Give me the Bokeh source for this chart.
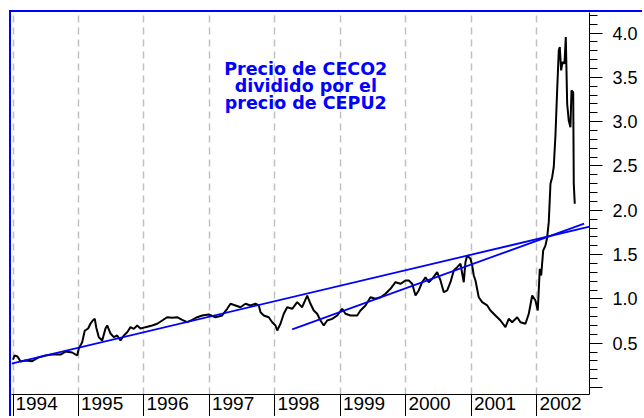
from bokeh.plotting import figure
from bokeh.models import FixedTicker, Range1d, Label
from bokeh.embed import file_html
from bokeh.resources import INLINE

years = [1994, 1995, 1996, 1997, 1998, 1999, 2000, 2001, 2002]
year_labels = ["1994", "1995", "1996", "1997", "1998", "1999", "2000", "2001", "2002"]
y_ticks = [0.0, 0.5, 1.0, 1.5, 2.0, 2.5, 3.0, 3.5, 4.0]
y_tick_labels = ["", "0.5", "1.0", "1.5", "2.0", "2.5", "3.0", "3.5", "4.0"]

fecha = [
    1994.000, 1994.023, 1994.069, 1994.115, 1994.191, 1994.293, 1994.389, 1994.496, 1994.598, 1994.725,
    1994.802, 1994.904, 1994.980, 1995.005, 1995.056, 1995.096, 1995.148, 1995.183, 1995.218, 1995.249,
    1995.270, 1995.310, 1995.362, 1995.412, 1995.438, 1995.489, 1995.539, 1995.591, 1995.641, 1995.692,
    1995.744, 1995.794, 1995.844, 1995.896, 1995.947, 1996.023, 1996.125, 1996.202, 1996.278, 1996.354,
    1996.431, 1996.507, 1996.583, 1996.660, 1996.736, 1996.812, 1996.889, 1996.989, 1997.092, 1997.194,
    1997.270, 1997.321, 1997.397, 1997.473, 1997.550, 1997.626, 1997.702, 1997.753, 1997.779, 1997.829,
    1997.905, 1997.957, 1998.008, 1998.034, 1998.084, 1998.134, 1998.186, 1998.263, 1998.339, 1998.415,
    1998.492, 1998.542, 1998.592, 1998.644, 1998.695, 1998.745, 1998.797, 1998.873, 1998.950, 1999.026,
    1999.076, 1999.153, 1999.255, 1999.305, 1999.382, 1999.458, 1999.534, 1999.611, 1999.687, 1999.763,
    1999.840, 1999.916, 1999.992, 2000.043, 2000.095, 2000.145, 2000.195, 2000.247, 2000.298, 2000.348,
    2000.400, 2000.476, 2000.527, 2000.577, 2000.629, 2000.679, 2000.730, 2000.782, 2000.832, 2000.882,
    2000.908, 2000.934, 2000.985, 2001.011, 2001.035, 2001.061, 2001.111, 2001.163, 2001.240, 2001.290,
    2001.366, 2001.443, 2001.519, 2001.569, 2001.621, 2001.698, 2001.748, 2001.824, 2001.875, 2001.927,
    2001.977, 2002.012, 2002.043, 2002.064, 2002.095, 2002.130, 2002.156,
    2002.180, 2002.206, 2002.232, 2002.256, 2002.282, 2002.308, 2002.333, 2002.348, 2002.369, 2002.389,
    2002.420, 2002.440, 2002.461, 2002.485, 2002.511, 2002.527, 2002.553, 2002.562, 2002.577,
]

ratio = [
    0.313, 0.361, 0.350, 0.293, 0.305, 0.297, 0.339, 0.361, 0.372, 0.372,
    0.406, 0.395, 0.361, 0.440, 0.511, 0.643, 0.666, 0.722, 0.756, 0.775,
    0.681, 0.568, 0.530, 0.666, 0.700, 0.609, 0.568, 0.587, 0.530, 0.587,
    0.624, 0.681, 0.662, 0.700, 0.666, 0.681, 0.700, 0.719, 0.756, 0.793,
    0.787, 0.793, 0.764, 0.737, 0.764, 0.793, 0.813, 0.824, 0.793, 0.813,
    0.888, 0.945, 0.926, 0.906, 0.945, 0.926, 0.945, 0.926, 0.850, 0.813,
    0.793, 0.737, 0.700, 0.643, 0.719, 0.832, 0.906, 0.888, 0.963, 0.906,
    1.038, 0.945, 0.869, 0.832, 0.756, 0.700, 0.756, 0.775, 0.813, 0.888,
    0.832, 0.813, 0.813, 0.869, 0.926, 1.019, 1.001, 1.019, 1.058, 1.114,
    1.188, 1.170, 1.208, 1.208, 1.170, 1.038, 1.095, 1.188, 1.245, 1.188,
    1.227, 1.301, 1.208, 1.076, 1.095, 1.188, 1.321, 1.358, 1.396, 1.188,
    1.414, 1.490, 1.453, 1.377, 1.264, 1.208, 1.019, 0.963, 0.926, 0.869,
    0.813, 0.756, 0.681, 0.775, 0.737, 0.793, 0.737, 0.719, 0.832, 1.038,
    0.982, 0.869, 1.340, 1.264, 1.546, 1.603, 1.696,
    1.866, 2.299, 2.374, 2.486, 2.844, 3.352, 3.804, 3.841, 3.578, 3.672,
    3.653, 3.954, 3.202, 3.014, 2.938, 3.352, 3.333, 2.299, 2.073,
]

# trend lines (start/end points)
trend1_x = [1993.977, 2002.802]
trend1_y = [0.270, 1.815]
trend2_x = [1998.263, 2002.720]
trend2_y = [0.655, 1.850]

title_text = "Precio de CECO2\ndividido por el\nprecio de CEPU2"

p = figure(width=633, height=406, output_backend="svg", toolbar_location=None,
           x_range=Range1d(1993.977, 2002.802), y_range=Range1d(-0.079, 4.232),
           y_axis_location="right",
           min_border_left=0, min_border_top=0, min_border_right=55, min_border_bottom=24)

p.background_fill_color = "white"
p.border_fill_color = "white"
p.outline_line_color = None
p.styles = {"border-top": "2px solid #0000ff", "border-left": "2px solid #0000ff",
            "margin-left": "9px", "margin-top": "10px"}

# x axis: labels between the year separators
label_offset = 0.36
xt = [y + label_offset for y in years]
p.xaxis.ticker = FixedTicker(ticks=xt, minor_ticks=years)
p.xaxis.major_label_overrides = {t: lab for t, lab in zip(xt, year_labels)}
p.xaxis.major_tick_in = 0
p.xaxis.major_tick_out = 0
p.xaxis.minor_tick_in = 0
p.xaxis.minor_tick_out = 24
p.xaxis.minor_tick_line_color = "black"
p.xaxis.axis_line_color = "black"
p.xaxis.major_label_standoff = -22
p.xaxis.major_label_text_font = "Liberation Sans"
p.xaxis.major_label_text_font_size = "19px"
p.xaxis.major_label_text_color = "black"

# y axis (right)
minor_y = [i / 10 for i in range(1, 43) if i % 5 != 0]
p.yaxis.ticker = FixedTicker(ticks=y_ticks, minor_ticks=minor_y)
p.yaxis.major_label_overrides = {t: lab for t, lab in zip(y_ticks, y_tick_labels)}
p.yaxis.major_tick_in = 0
p.yaxis.major_tick_out = 13
p.yaxis.minor_tick_in = 0
p.yaxis.minor_tick_out = 8
p.yaxis.major_tick_line_color = "black"
p.yaxis.minor_tick_line_color = "black"
p.yaxis.axis_line_color = "black"
p.yaxis.major_label_standoff = 10
p.yaxis.major_label_text_font = "Liberation Sans"
p.yaxis.major_label_text_font_size = "18px"
p.yaxis.major_label_text_color = "black"

# grid
p.xgrid.ticker = FixedTicker(ticks=years)
p.xgrid.grid_line_color = "#c0c0c0"
p.xgrid.grid_line_dash = "7 5"
p.xgrid.grid_line_width = 1.5
p.ygrid.visible = False

p.line(fecha, ratio, line_color="black", line_width=2)
p.line(trend1_x, trend1_y, line_color="#0000ff", line_width=1.8)
p.line(trend2_x, trend2_y, line_color="#0000ff", line_width=1.8)

p.add_layout(Label(x=1998.47, y=3.40, text=title_text, text_align="center",
                   text_baseline="middle", text_font="DejaVu Sans", text_font_style="bold",
                   text_font_size="17.5px", text_color="#0000ff", text_line_height=0.86))

open("out.html", "w").write(file_html(p, INLINE))
